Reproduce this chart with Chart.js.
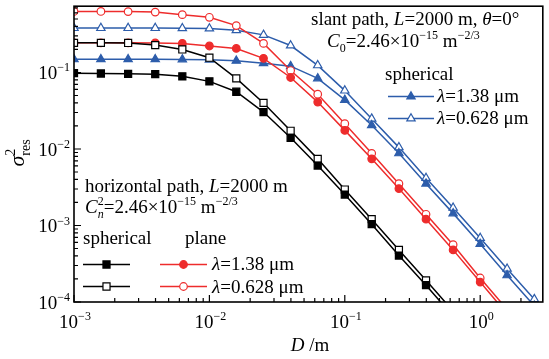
<!DOCTYPE html>
<html>
<head>
<meta charset="utf-8">
<script src="https://cdn.jsdelivr.net/npm/chart.js@4.4.1/dist/chart.umd.min.js"></script>
<style>
  html, body { margin: 0; padding: 0; background: #fff; }
</style>
</head>
<body>
<canvas id="myChart" width="549" height="359"></canvas>
<script>
// aperture diameters D (m)
const diameters = [0.001, 0.00158, 0.00251, 0.00398, 0.00631, 0.01, 0.0158, 0.0251, 0.0398,
                   0.0631, 0.1, 0.158, 0.251, 0.398, 0.631, 1.0, 1.58, 2.51];

// horizontal path, spherical wave
const horizSph138 = [0.098, 0.097, 0.096, 0.095, 0.089, 0.0765, 0.056, 0.0304, 0.014,
                     0.00608, 0.00254, 0.00104, 0.000405, 0.000166, 0.000065];
const horizSph0628 = [0.244, 0.244, 0.243, 0.228, 0.2, 0.156, 0.0836, 0.040, 0.0173,
                      0.00743, 0.00295, 0.00121, 0.00048, 0.000192, 0.000076];
// horizontal path, plane wave
const horizPl138 = [0.244, 0.244, 0.244, 0.243, 0.24, 0.222, 0.206, 0.153, 0.086,
                    0.041, 0.0175, 0.00743, 0.00304, 0.00121, 0.00048, 0.000182, 0.00007];
const horizPl0628 = [0.628, 0.628, 0.625, 0.615, 0.57, 0.526, 0.41, 0.24, 0.106,
                     0.052, 0.0214, 0.00877, 0.00352, 0.0014, 0.000561, 0.000206, 0.00008];
// slant path, spherical wave
const slantSph138 = [0.149, 0.149, 0.149, 0.149, 0.148, 0.147, 0.142, 0.132, 0.121,
                     0.0836, 0.0438, 0.0204, 0.00877, 0.00352, 0.00144, 0.000573, 0.000223, 0.000089];
const slantSph0628 = [0.38, 0.38, 0.38, 0.38, 0.378, 0.375, 0.356, 0.31, 0.225,
                      0.124, 0.058, 0.0249, 0.0105, 0.00417, 0.0017, 0.000686, 0.000272, 0.000109];

const xMajor = [0.001, 0.01, 0.1, 1];
const xTickExps = ['\u22123', '\u22122', '\u22121', '0'];
const yMajor = [0.1, 0.01, 0.001, 0.0001];
const yTickExps = ['\u22121', '\u22122', '\u22123', '\u22124'];

const BLACK = '#000000';
const RED = '#ee2c2c';
const BLUE = '#2d5dab';
const SERIF = '"Liberation Serif", "Times New Roman", serif';
const FS = 19; // text size

function series(label, ys, color, style, filled, r) {
    return {
        label: label,
        data: ys.map(function (y, i) { return { x: diameters[i], y: y }; }),
        borderColor: color,
        borderWidth: 1.5,
        pointStyle: style,
        pointRadius: r,
        pointHoverRadius: r,
        pointBackgroundColor: filled ? color : '#ffffff',
        pointBorderColor: color,
        pointBorderWidth: 1.2,
        tension: 0,
        fill: false
    };
}

function font(size, italic) {
    return (italic ? 'italic ' : '') + size + 'px ' + SERIF;
}

// parts: {t, i} normal text, {t, sup} / {t, sub} scripts, {sup, sub} stacked
function partWidth(ctx, p, size, small) {
    if (p.t !== undefined && !p.sup && !p.sub) {
        ctx.font = font(size, p.i);
        return ctx.measureText(p.t).width;
    }
    if (p.t !== undefined) {
        ctx.font = font(small, p.i);
        return ctx.measureText(p.t).width;
    }
    ctx.font = font(small, false);
    const a = ctx.measureText(p.sup).width;
    ctx.font = font(small, p.subI);
    const b = ctx.measureText(p.sub).width;
    return Math.max(a, b);
}

function drawRich(ctx, parts, x, y, size, align) {
    const small = Math.round(size * 0.64);
    let w = 0;
    parts.forEach(function (p) { w += partWidth(ctx, p, size, small); });
    let cx = align === 'center' ? x - w / 2 : (align === 'right' ? x - w : x);
    ctx.textAlign = 'left';
    ctx.textBaseline = 'alphabetic';
    parts.forEach(function (p) {
        const pw = partWidth(ctx, p, size, small);
        if (p.t !== undefined && !p.sup && !p.sub) {
            ctx.font = font(size, p.i);
            ctx.fillText(p.t, cx, y);
        } else if (p.t !== undefined) {
            ctx.font = font(small, p.i);
            ctx.fillText(p.t, cx, p.sup ? y - size * 0.42 : y + size * 0.25);
        } else {
            ctx.font = font(small, false);
            ctx.fillText(p.sup, cx, y - size * 0.42);
            ctx.font = font(small, p.subI);
            ctx.fillText(p.sub, cx, y + size * 0.25);
        }
        cx += pw;
    });
}

function drawMarker(ctx, style, x, y, r, color, filled) {
    ctx.save();
    ctx.beginPath();
    if (style === 'rect') {
        const s = Math.SQRT1_2 * r;
        ctx.rect(x - s, y - s, 2 * s, 2 * s);
    } else if (style === 'triangle') {
        ctx.moveTo(x, y - r);
        ctx.lineTo(x + 0.866 * r, y + 0.5 * r);
        ctx.lineTo(x - 0.866 * r, y + 0.5 * r);
        ctx.closePath();
    } else {
        ctx.arc(x, y, r, 0, Math.PI * 2);
    }
    ctx.fillStyle = filled ? color : '#ffffff';
    ctx.fill();
    ctx.lineWidth = 1.2;
    ctx.strokeStyle = color;
    ctx.stroke();
    ctx.restore();
}

function legendSample(ctx, x1, x2, y, color, style, filled, r) {
    ctx.save();
    ctx.strokeStyle = color;
    ctx.lineWidth = 1.5;
    ctx.beginPath();
    ctx.moveTo(x1, y);
    ctx.lineTo(x2, y);
    ctx.stroke();
    ctx.restore();
    drawMarker(ctx, style, (x1 + x2) / 2, y, r, color, filled);
}

const framePlugin = {
    id: 'frame',
    afterDraw: function (chart) {
        const ctx = chart.ctx;
        const area = chart.chartArea;
        const xs = chart.scales.x;
        const ys = chart.scales.y;
        ctx.save();

        // ticks (inward, left and bottom)
        ctx.strokeStyle = '#000';
        ctx.lineWidth = 1.2;
        ctx.beginPath();
        for (let d = -3; d <= 0; d++) {
            for (let k = 1; k <= 9; k++) {
                const v = k * Math.pow(10, d);
                if (v < xs.min || v > xs.max) continue;
                const px = xs.getPixelForValue(v);
                const len = k === 1 ? 7 : 4;
                ctx.moveTo(px, area.bottom);
                ctx.lineTo(px, area.bottom - len);
            }
        }
        for (let d = -4; d <= -1; d++) {
            for (let k = 1; k <= 9; k++) {
                const v = k * Math.pow(10, d);
                if (v < ys.min || v > ys.max) continue;
                const py = ys.getPixelForValue(v);
                const len = k === 1 ? 7 : 4;
                ctx.moveTo(area.left, py);
                ctx.lineTo(area.left + len, py);
            }
        }
        ctx.stroke();

        // frame
        ctx.lineWidth = 1.6;
        ctx.strokeRect(area.left, area.top, area.right - area.left, area.bottom - area.top);

        ctx.fillStyle = '#000';
        // tick labels
        xMajor.forEach(function (v, i) {
            const px = xs.getPixelForValue(v);
            drawRich(ctx, [{ t: '10' }, { t: xTickExps[i], sup: true }], px + 1, 328, FS, 'center');
        });
        yMajor.forEach(function (v, i) {
            const py = ys.getPixelForValue(v);
            drawRich(ctx, [{ t: '10' }, { t: yTickExps[i], sup: true }], 70, py + 7, FS, 'right');
        });

        // axis titles
        drawRich(ctx, [{ t: 'D', i: true }, { t: ' /m' }], 310, 351, FS, 'center');
        ctx.save();
        ctx.translate(24, 153);
        ctx.rotate(-Math.PI / 2);
        drawRich(ctx, [{ t: '\u03c3', i: true }, { sup: '2', sub: 'res' }], 0, 0, 22, 'center');
        ctx.restore();

        // slant path annotation
        drawRich(ctx, [{ t: 'slant path, ' }, { t: 'L', i: true }, { t: '=2000 m, ' },
                       { t: '\u03b8', i: true }, { t: '=0\u00b0' }], 311, 25, FS, 'left');
        drawRich(ctx, [{ t: 'C', i: true }, { t: '0', sub: true }, { t: '=2.46\u00d710' },
                       { t: '\u221215', sup: true }, { t: ' m' }, { t: '\u22122/3', sup: true }], 327, 47, FS, 'left');
        drawRich(ctx, [{ t: 'spherical' }], 385, 80, FS, 'left');
        legendSample(ctx, 388, 434, 96.5, BLUE, 'triangle', true, 4.8);
        legendSample(ctx, 388, 434, 118.5, BLUE, 'triangle', false, 4.8);
        drawRich(ctx, [{ t: '\u03bb', i: true }, { t: '=1.38 \u03bcm' }], 437, 102, FS, 'left');
        drawRich(ctx, [{ t: '\u03bb', i: true }, { t: '=0.628 \u03bcm' }], 437, 124, FS, 'left');

        // horizontal path annotation
        drawRich(ctx, [{ t: 'horizontal path, ' }, { t: 'L', i: true }, { t: '=2000 m' }], 85, 192, FS, 'left');
        drawRich(ctx, [{ t: 'C', i: true }, { sup: '2', sub: 'n', subI: true }, { t: '=2.46\u00d710' },
                       { t: '\u221215', sup: true }, { t: ' m' }, { t: '\u22122/3', sup: true }], 85, 213, FS, 'left');
        drawRich(ctx, [{ t: 'spherical' }], 83, 244, FS, 'left');
        drawRich(ctx, [{ t: 'plane' }], 185, 244, FS, 'left');
        legendSample(ctx, 83, 130, 264.5, BLACK, 'rect', true, 5);
        legendSample(ctx, 83, 130, 286.5, BLACK, 'rect', false, 5);
        legendSample(ctx, 160, 207, 264.5, RED, 'circle', true, 3.8);
        legendSample(ctx, 160, 207, 286.5, RED, 'circle', false, 3.8);
        drawRich(ctx, [{ t: '\u03bb', i: true }, { t: '=1.38 \u03bcm' }], 212, 270, FS, 'left');
        drawRich(ctx, [{ t: '\u03bb', i: true }, { t: '=0.628 \u03bcm' }], 212, 292.5, FS, 'left');

        ctx.restore();
    }
};

const ctx = document.getElementById('myChart');
const myChart = new Chart(ctx, {
    type: 'line',
    data: {
        datasets: [
            series('horizontal spherical 1.38', horizSph138, BLACK, 'rect', true, 5),
            series('horizontal spherical 0.628', horizSph0628, BLACK, 'rect', false, 5),
            series('plane 1.38', horizPl138, RED, 'circle', true, 3.8),
            series('plane 0.628', horizPl0628, RED, 'circle', false, 3.8),
            series('slant spherical 1.38', slantSph138, BLUE, 'triangle', true, 4.8),
            series('slant spherical 0.628', slantSph0628, BLUE, 'triangle', false, 4.8)
        ]
    },
    options: {
        responsive: false,
        animation: false,
        layout: { padding: { left: 74, right: 3, top: 3, bottom: 57 } },
        plugins: {
            legend: { display: false },
            tooltip: { enabled: false }
        },
        scales: {
            x: { type: 'logarithmic', min: 0.001, max: 2.9, display: false },
            y: { type: 'logarithmic', min: 0.0001, max: 0.735, display: false }
        }
    },
    plugins: [framePlugin]
});
</script>
</body>
</html>
